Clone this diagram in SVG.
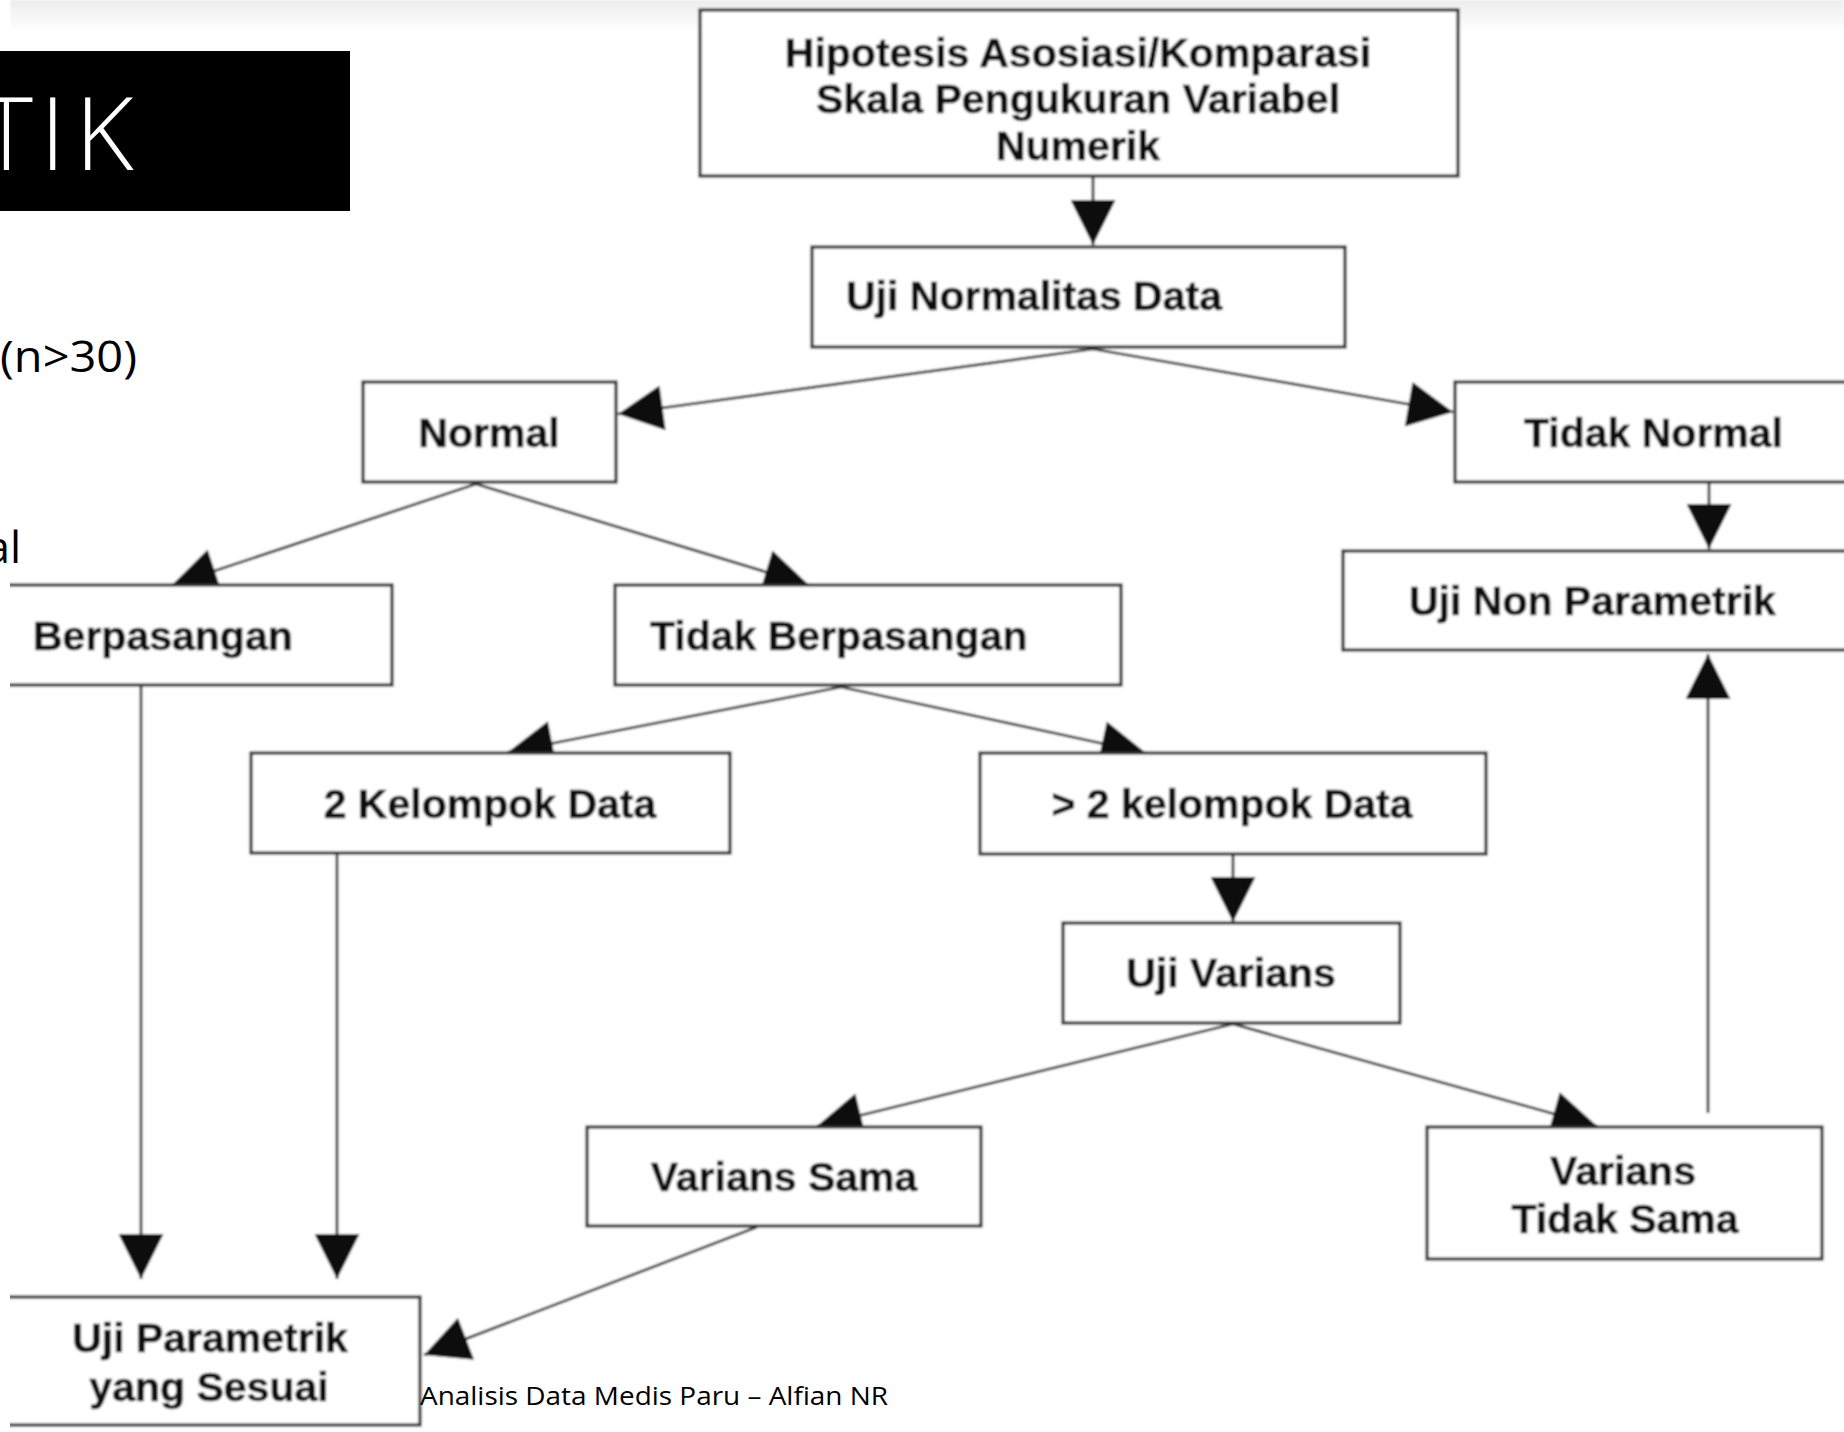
<svg xmlns="http://www.w3.org/2000/svg" width="1844" height="1432" viewBox="0 0 1844 1432">
  <defs>
    <linearGradient id="topShade" x1="0" y1="0" x2="0" y2="1">
      <stop offset="0" stop-color="#ededed"/>
      <stop offset="1" stop-color="#ffffff"/>
    </linearGradient>
    <marker id="head" viewBox="0 0 10 10" refX="10" refY="5" markerWidth="47" markerHeight="45" markerUnits="userSpaceOnUse" orient="auto">
      <path d="M0,0 L10,5 L0,10 z" fill="#0a0a0a"/>
    </marker>
    <clipPath id="chartArea">
      <rect x="10" y="0" width="1834" height="1432"/>
    </clipPath>
    <filter id="soft" x="-2%" y="-2%" width="104%" height="104%">
      <feGaussianBlur stdDeviation="0.9"/>
    </filter>
    <style>
      .box { fill: #ffffff; stroke: #2e2e2e; stroke-width: 3.2; }
      .lbl { font-family: "Liberation Sans", Arial, sans-serif; font-weight: bold; font-size: 41px; fill: #111; stroke: #111; stroke-width: 0.6; }
      .mid { text-anchor: middle; }
      .edge { fill: none; stroke: #262626; stroke-width: 2.7; marker-end: url(#head); }
      .slide { font-family: "Open Sans", "Liberation Sans", sans-serif; fill: #000; }
    </style>
  </defs>

  <rect x="0" y="0" width="1844" height="1432" fill="#ffffff"/>

  <!-- flowchart panel -->
  <g clip-path="url(#chartArea)" filter="url(#soft)">
    <rect x="10" y="0" width="1834" height="1432" fill="#ffffff"/>
    <rect x="10" y="0" width="1834" height="32" fill="url(#topShade)"/>

    <g id="connectors">
      <line class="edge" x1="1093" y1="177" x2="1093" y2="245"/>
      <line class="edge" x1="1093" y1="349" x2="618" y2="414"/>
      <line class="edge" x1="1093" y1="349" x2="1453" y2="412"/>
      <line class="edge" x1="1709" y1="483" x2="1709" y2="549"/>
      <line class="edge" x1="1708" y1="1113" x2="1708" y2="654"/>
      <line class="edge" x1="476" y1="484" x2="172" y2="585"/>
      <line class="edge" x1="476" y1="484" x2="809" y2="585"/>
      <line class="edge" x1="841" y1="687" x2="508" y2="752"/>
      <line class="edge" x1="841" y1="687" x2="1146" y2="753"/>
      <line class="edge" x1="1233" y1="855" x2="1233" y2="922"/>
      <line class="edge" x1="1233" y1="1024" x2="817" y2="1126"/>
      <line class="edge" x1="1233" y1="1024" x2="1597" y2="1126"/>
      <line class="edge" x1="141" y1="686" x2="141" y2="1279"/>
      <line class="edge" x1="337" y1="854" x2="337" y2="1279"/>
      <line class="edge" x1="757" y1="1227" x2="424" y2="1355"/>
    </g>

    <g id="hipotesis">
      <rect class="box" x="700" y="10" width="758" height="166"/>
      <text class="lbl mid" x="1078" y="67">Hipotesis Asosiasi/Komparasi</text>
      <text class="lbl mid" x="1078" y="113">Skala Pengukuran Variabel</text>
      <text class="lbl mid" x="1078" y="160">Numerik</text>
    </g>

    <g id="uji-normalitas">
      <rect class="box" x="812" y="247" width="533" height="100"/>
      <text class="lbl" x="846" y="310">Uji Normalitas Data</text>
    </g>

    <g id="normal">
      <rect class="box" x="363" y="382" width="253" height="100"/>
      <text class="lbl mid" x="489" y="447">Normal</text>
    </g>

    <g id="tidak-normal">
      <rect class="box" x="1455" y="382" width="420" height="100"/>
      <text class="lbl" x="1524" y="447">Tidak Normal</text>
    </g>

    <g id="uji-non-parametrik">
      <rect class="box" x="1343" y="551" width="530" height="99"/>
      <text class="lbl" x="1409" y="615">Uji Non Parametrik</text>
    </g>

    <g id="berpasangan">
      <rect class="box" x="-20" y="585" width="412" height="100"/>
      <text class="lbl" x="33" y="650">Berpasangan</text>
    </g>

    <g id="tidak-berpasangan">
      <rect class="box" x="615" y="585" width="506" height="100"/>
      <text class="lbl" x="650" y="650">Tidak Berpasangan</text>
    </g>

    <g id="dua-kelompok">
      <rect class="box" x="251" y="753" width="479" height="100"/>
      <text class="lbl mid" x="490" y="818">2 Kelompok Data</text>
    </g>

    <g id="lebih-dua-kelompok">
      <rect class="box" x="980" y="753" width="506" height="101"/>
      <text class="lbl mid" x="1232" y="818">&gt; 2 kelompok Data</text>
    </g>

    <g id="uji-varians">
      <rect class="box" x="1063" y="923" width="337" height="100"/>
      <text class="lbl mid" x="1231" y="987">Uji Varians</text>
    </g>

    <g id="varians-sama">
      <rect class="box" x="587" y="1127" width="394" height="99"/>
      <text class="lbl mid" x="784" y="1191">Varians Sama</text>
    </g>

    <g id="varians-tidak-sama">
      <rect class="box" x="1427" y="1127" width="395" height="132"/>
      <text class="lbl mid" x="1623" y="1185">Varians</text>
      <text class="lbl mid" x="1625" y="1233">Tidak Sama</text>
    </g>

    <g id="uji-parametrik">
      <rect class="box" x="-20" y="1297" width="440" height="128"/>
      <text class="lbl mid" x="210" y="1352">Uji Parametrik</text>
      <text class="lbl mid" x="209" y="1401">yang Sesuai</text>
    </g>
  </g>

  <!-- slide overlay: title bar, body fragments, footer -->
  <g id="title-bar">
    <rect x="0" y="51" width="350" height="160" fill="#000"/>
    <text x="-20 40 75" y="170" font-family="'Open Sans', 'Liberation Sans', sans-serif" font-weight="300" font-size="101" fill="#fff">TIK</text>
  </g>
  <text class="slide" x="0" y="372" font-size="43" textLength="137" lengthAdjust="spacingAndGlyphs">(n&gt;30)</text>
  <text class="slide" x="21" y="563" font-size="44" text-anchor="end">al</text>
  <text class="slide" x="420" y="1405" font-size="26" textLength="468" lengthAdjust="spacingAndGlyphs">Analisis Data Medis Paru – Alfian NR</text>
</svg>
